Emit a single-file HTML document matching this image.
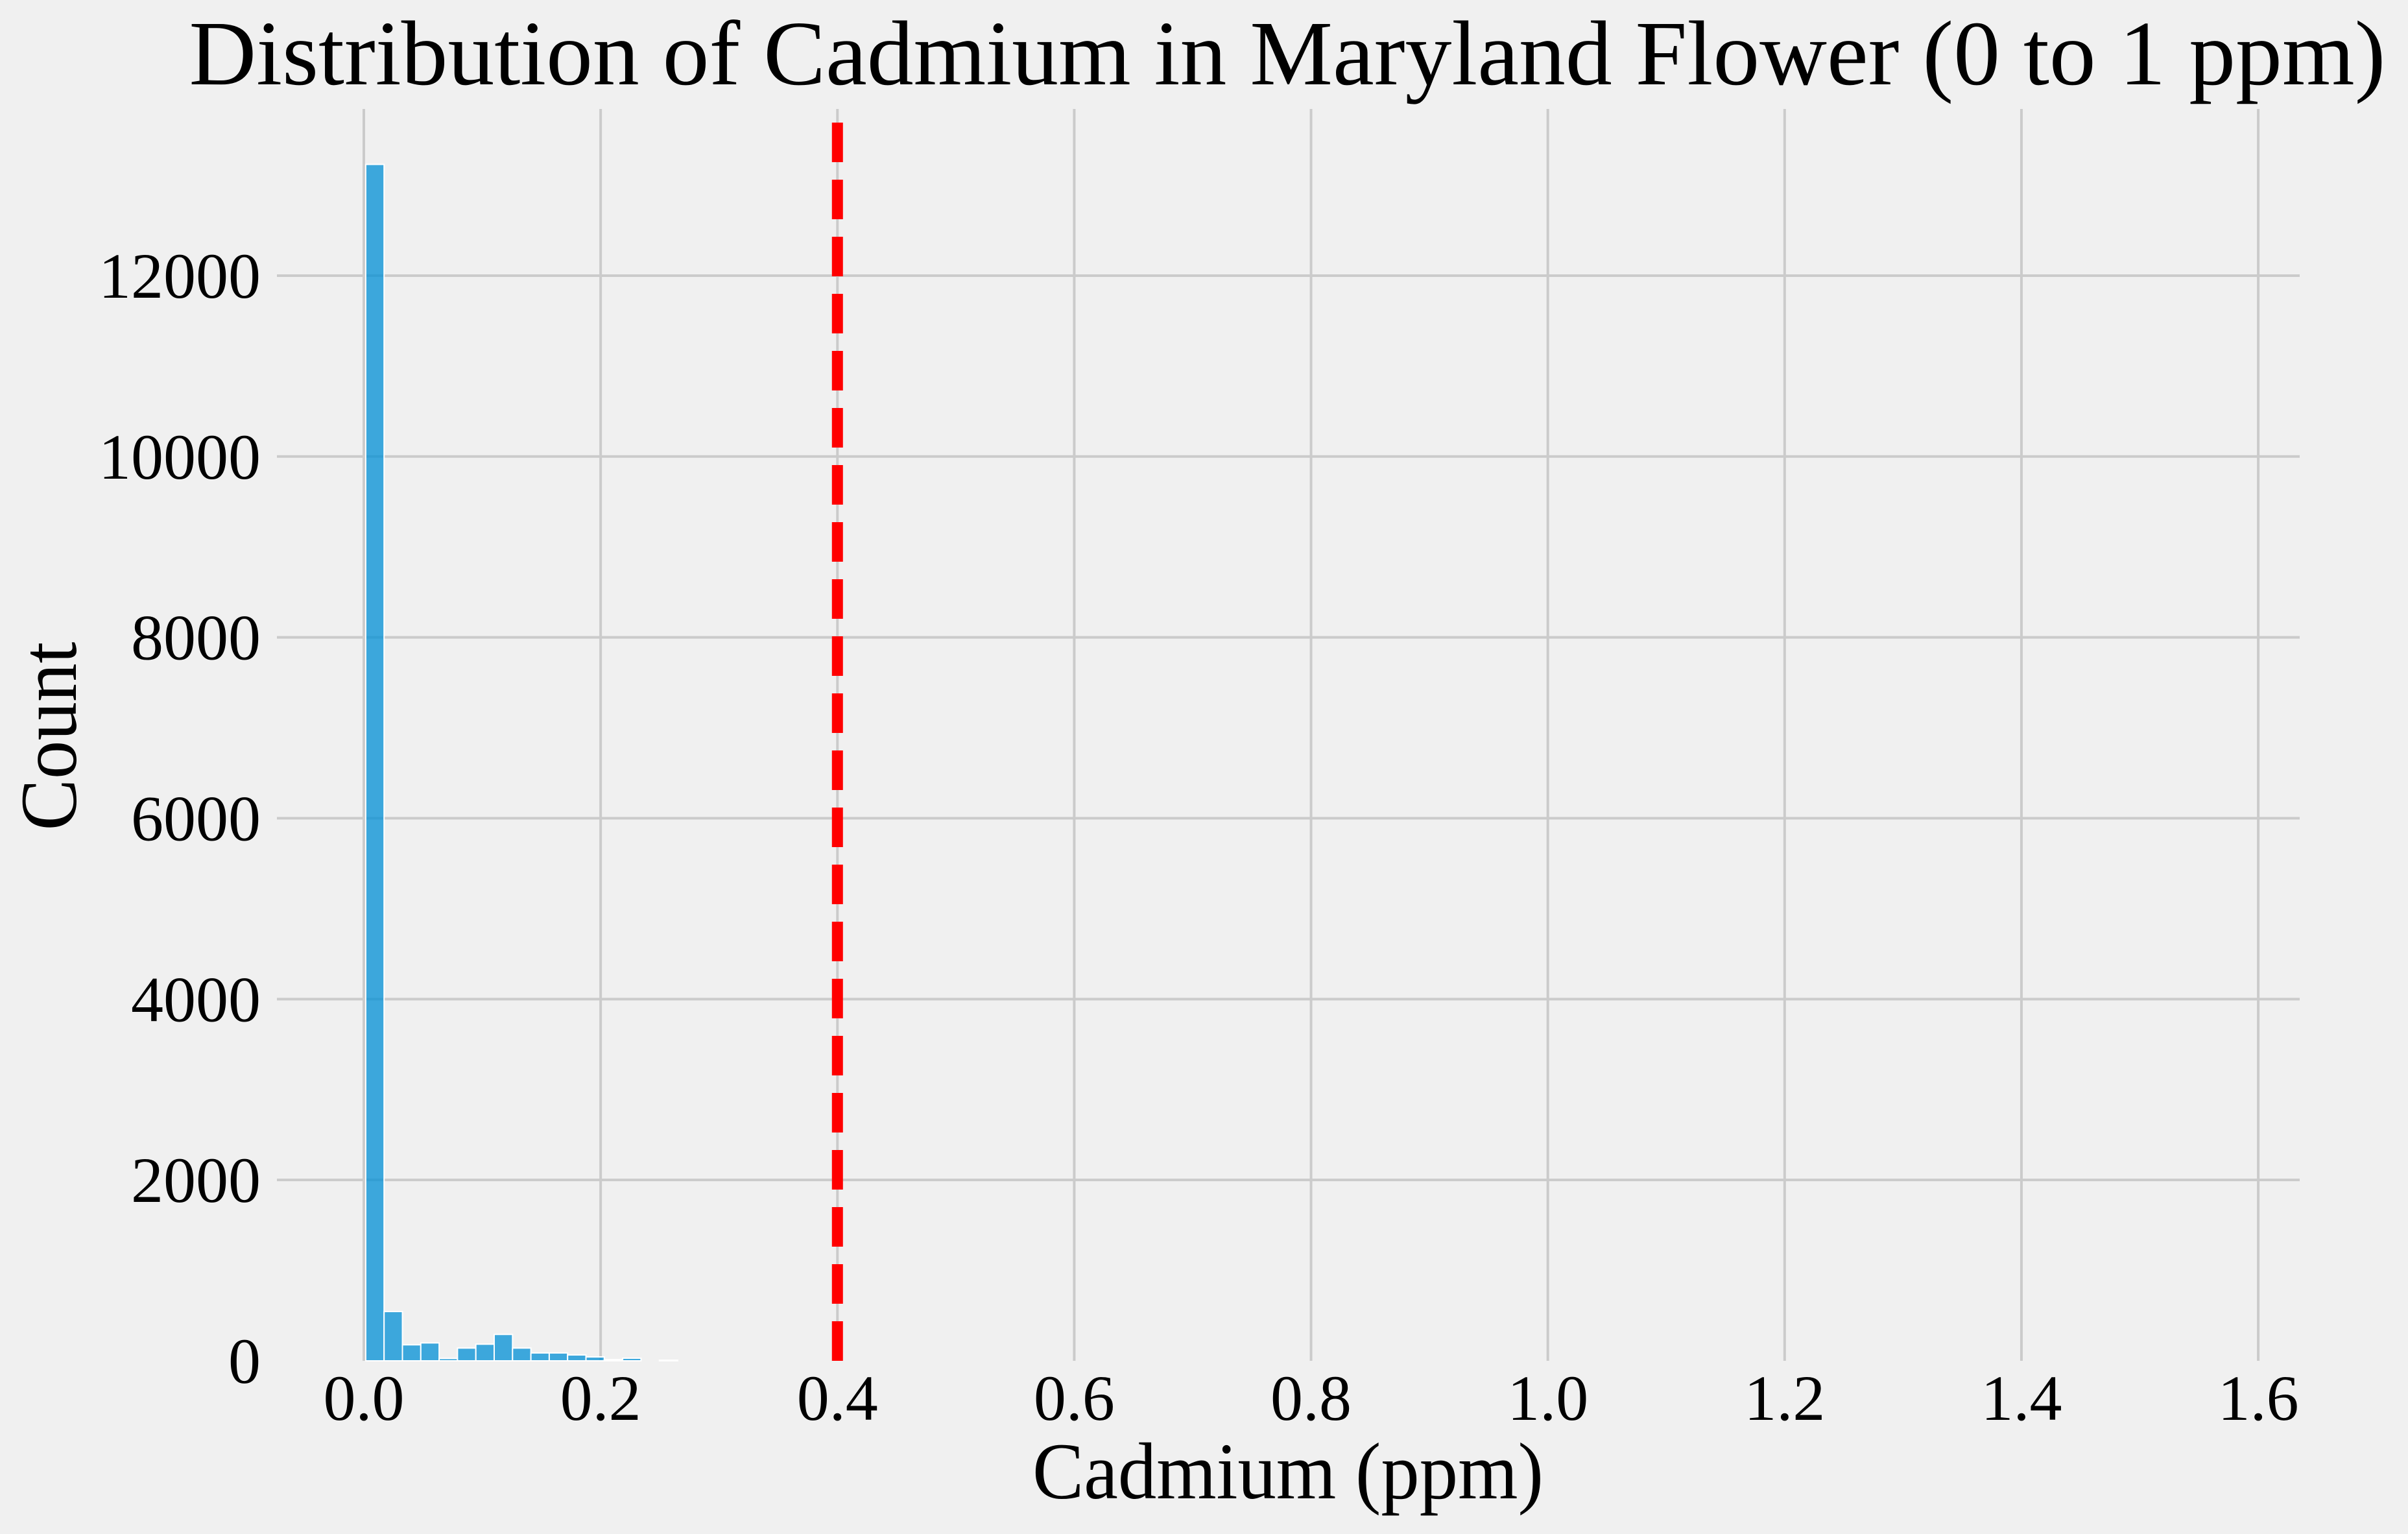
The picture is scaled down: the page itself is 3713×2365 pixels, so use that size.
<!DOCTYPE html>
<html><head><meta charset="utf-8"><style>
html,body{margin:0;padding:0;background:#f0f0f0;}
svg{display:block;}
text{font-family:"Liberation Serif","DejaVu Serif",serif;fill:#000;}
</style></head><body>
<svg id="chart" width="3713" height="2365" viewBox="0 0 3713 2365" xmlns="http://www.w3.org/2000/svg">
<rect x="0" y="0" width="3713" height="2365" fill="#f0f0f0"/>
<g id="grid"></g>
<g id="bars"></g>
<g id="ref"></g>
<g id="ticks"></g>
<text x="1985" y="130" font-size="142" text-anchor="middle" textLength="3387" lengthAdjust="spacingAndGlyphs">Distribution of Cadmium in Maryland Flower (0 to 1 ppm)</text>
<text x="1986" y="2310" font-size="124" text-anchor="middle" textLength="788" lengthAdjust="spacingAndGlyphs">Cadmium (ppm)</text>
<text x="0" y="0" font-size="124" text-anchor="middle" textLength="291" lengthAdjust="spacingAndGlyphs" transform="translate(117,1135) rotate(-90)">Count</text>
</svg>
<script>
const binStart = 0.0016;
const binWidth = 0.0155;
const counts = [13230, 545, 177, 198, 26, 141, 184, 292, 141, 87, 87, 65, 43, 14, 29, 0, 7];
const xTicks = [0.0, 0.2, 0.4, 0.6, 0.8, 1.0, 1.2, 1.4, 1.6];
const xTickLabels = ["0.0","0.2","0.4","0.6","0.8","1.0","1.2","1.4","1.6"];
const yTicks = [0, 2000, 4000, 6000, 8000, 10000, 12000];
const yTickLabels = ["0","2000","4000","6000","8000","10000","12000"];
const threshold = 0.4;

const NS = "http://www.w3.org/2000/svg";
const L = 427, R = 3546, T = 168, B = 2098;
const xMin = -0.0734, xMax = 1.635, yMin = 0, yMax = (B - T) / 0.13942;
function sx(v){ return L + (v - xMin) / (xMax - xMin) * (R - L); }
function sy(v){ return B - (v - yMin) / (yMax - yMin) * (B - T); }
function mk(tag, attrs, parent){ const e = document.createElementNS(NS, tag); for (const k in attrs) e.setAttribute(k, attrs[k]); parent.appendChild(e); return e; }

const grid = document.getElementById('grid');
yTicks.forEach((v, i) => {
  if (v === yMin) return;
  const ln = mk('line', {x1:L, x2:R, y1:sy(v), y2:sy(v), stroke:'#cbcbcb', 'stroke-width':4}, grid);
  
  
});
xTicks.forEach((v, i) => {
  const ln = mk('line', {x1:sx(v), x2:sx(v), y1:T, y2:B, stroke:'#cbcbcb', 'stroke-width':4}, grid);
  
  
});

const bars = document.getElementById('bars');
counts.forEach((c, i) => {
  if (c <= 0) return;
  const x0 = sx(binStart + i * binWidth), x1 = sx(binStart + (i + 1) * binWidth);
  const r = mk('rect', {x:x0, y:sy(c), width:x1 - x0, height:sy(0) - sy(c), fill:'#008fd5', 'fill-opacity':0.75, stroke:'#ffffff', 'stroke-width':2}, bars);
  
  
});

const ref = document.getElementById('ref');
const rl = mk('line', {x1:sx(threshold), x2:sx(threshold), y1:T, y2:B, stroke:'#ff0000', 'stroke-width':17, 'stroke-dasharray':'61 27', 'stroke-dashoffset':'-21'}, ref);



const ticks = document.getElementById('ticks');
xTicks.forEach((v, i) => {
  const t = mk('text', {x:sx(v), y:2189, 'font-size':100, 'text-anchor':'middle'}, ticks);
  t.textContent = xTickLabels[i];
  
  
});
yTicks.forEach((v, i) => {
  const t = mk('text', {x:402, y:sy(v) + 34, 'font-size':100, 'text-anchor':'end'}, ticks);
  t.textContent = yTickLabels[i];
  
  
});
</script>
</body></html>
